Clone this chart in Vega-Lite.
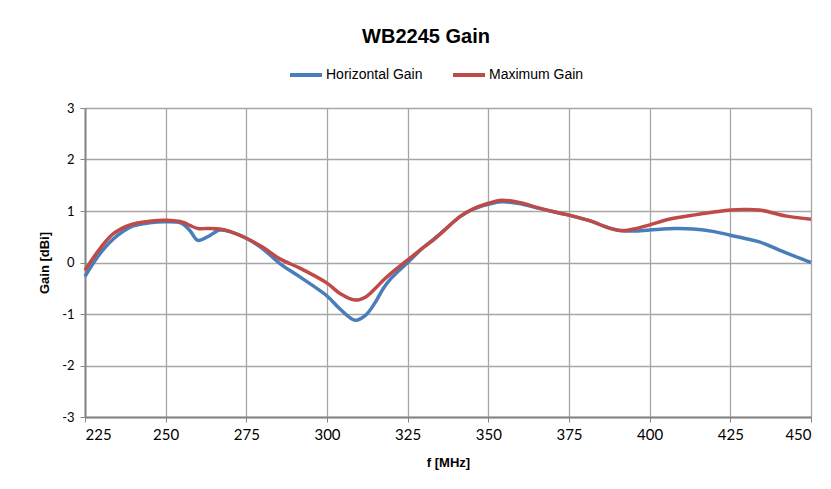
{
  "$schema": "https://vega.github.io/schema/vega-lite/v6.json",
  "width": 726,
  "height": 309,
  "autosize": "none",
  "padding": {"left": 85, "top": 108, "right": 20, "bottom": 72},
  "background": "white",
  "title": {
    "text": "WB2245 Gain",
    "font": "Liberation Sans",
    "fontSize": 20,
    "fontWeight": "bold",
    "color": "#000000",
    "anchor": "middle",
    "frame": "group",
    "dx": -22,
    "baseline": "alphabetic",
    "offset": -6
  },
  "data": {
    "values": [
      {"f": 225, "gain": -0.27, "series": "Horizontal Gain"},
      {"f": 230, "gain": 0.2, "series": "Horizontal Gain"},
      {"f": 235, "gain": 0.52, "series": "Horizontal Gain"},
      {"f": 240, "gain": 0.71, "series": "Horizontal Gain"},
      {"f": 245, "gain": 0.77, "series": "Horizontal Gain"},
      {"f": 250, "gain": 0.79, "series": "Horizontal Gain"},
      {"f": 255, "gain": 0.76, "series": "Horizontal Gain"},
      {"f": 257.5, "gain": 0.62, "series": "Horizontal Gain"},
      {"f": 260, "gain": 0.43, "series": "Horizontal Gain"},
      {"f": 263, "gain": 0.5, "series": "Horizontal Gain"},
      {"f": 266.8, "gain": 0.63, "series": "Horizontal Gain"},
      {"f": 270, "gain": 0.6, "series": "Horizontal Gain"},
      {"f": 275, "gain": 0.47, "series": "Horizontal Gain"},
      {"f": 280, "gain": 0.27, "series": "Horizontal Gain"},
      {"f": 285.4, "gain": -0.02, "series": "Horizontal Gain"},
      {"f": 291.6, "gain": -0.28, "series": "Horizontal Gain"},
      {"f": 300, "gain": -0.65, "series": "Horizontal Gain"},
      {"f": 304, "gain": -0.9, "series": "Horizontal Gain"},
      {"f": 308.7, "gain": -1.12, "series": "Horizontal Gain"},
      {"f": 312, "gain": -1.02, "series": "Horizontal Gain"},
      {"f": 315, "gain": -0.77, "series": "Horizontal Gain"},
      {"f": 317.5, "gain": -0.5, "series": "Horizontal Gain"},
      {"f": 320, "gain": -0.3, "series": "Horizontal Gain"},
      {"f": 325, "gain": 0.0, "series": "Horizontal Gain"},
      {"f": 330, "gain": 0.3, "series": "Horizontal Gain"},
      {"f": 335, "gain": 0.55, "series": "Horizontal Gain"},
      {"f": 341.2, "gain": 0.89, "series": "Horizontal Gain"},
      {"f": 345, "gain": 1.03, "series": "Horizontal Gain"},
      {"f": 350, "gain": 1.13, "series": "Horizontal Gain"},
      {"f": 354, "gain": 1.18, "series": "Horizontal Gain"},
      {"f": 360, "gain": 1.14, "series": "Horizontal Gain"},
      {"f": 365, "gain": 1.06, "series": "Horizontal Gain"},
      {"f": 372, "gain": 0.96, "series": "Horizontal Gain"},
      {"f": 375, "gain": 0.92, "series": "Horizontal Gain"},
      {"f": 382.5, "gain": 0.79, "series": "Horizontal Gain"},
      {"f": 386, "gain": 0.7, "series": "Horizontal Gain"},
      {"f": 390.8, "gain": 0.62, "series": "Horizontal Gain"},
      {"f": 395, "gain": 0.61, "series": "Horizontal Gain"},
      {"f": 400, "gain": 0.63, "series": "Horizontal Gain"},
      {"f": 408, "gain": 0.66, "series": "Horizontal Gain"},
      {"f": 413.5, "gain": 0.65, "series": "Horizontal Gain"},
      {"f": 420, "gain": 0.6, "series": "Horizontal Gain"},
      {"f": 425, "gain": 0.53, "series": "Horizontal Gain"},
      {"f": 434, "gain": 0.4, "series": "Horizontal Gain"},
      {"f": 442.5, "gain": 0.18, "series": "Horizontal Gain"},
      {"f": 450, "gain": 0.0, "series": "Horizontal Gain"},
      {"f": 225, "gain": -0.15, "series": "Maximum Gain"},
      {"f": 230, "gain": 0.3, "series": "Maximum Gain"},
      {"f": 233.8, "gain": 0.56, "series": "Maximum Gain"},
      {"f": 239, "gain": 0.73, "series": "Maximum Gain"},
      {"f": 245, "gain": 0.8, "series": "Maximum Gain"},
      {"f": 250, "gain": 0.82, "series": "Maximum Gain"},
      {"f": 255.5, "gain": 0.78, "series": "Maximum Gain"},
      {"f": 257.5, "gain": 0.72, "series": "Maximum Gain"},
      {"f": 260, "gain": 0.66, "series": "Maximum Gain"},
      {"f": 263, "gain": 0.66, "series": "Maximum Gain"},
      {"f": 266.8, "gain": 0.65, "series": "Maximum Gain"},
      {"f": 270, "gain": 0.6, "series": "Maximum Gain"},
      {"f": 275, "gain": 0.47, "series": "Maximum Gain"},
      {"f": 280, "gain": 0.3, "series": "Maximum Gain"},
      {"f": 285.4, "gain": 0.07, "series": "Maximum Gain"},
      {"f": 291.6, "gain": -0.11, "series": "Maximum Gain"},
      {"f": 300, "gain": -0.4, "series": "Maximum Gain"},
      {"f": 304, "gain": -0.6, "series": "Maximum Gain"},
      {"f": 308.7, "gain": -0.73, "series": "Maximum Gain"},
      {"f": 312, "gain": -0.67, "series": "Maximum Gain"},
      {"f": 315, "gain": -0.5, "series": "Maximum Gain"},
      {"f": 317.5, "gain": -0.34, "series": "Maximum Gain"},
      {"f": 320, "gain": -0.2, "series": "Maximum Gain"},
      {"f": 325, "gain": 0.05, "series": "Maximum Gain"},
      {"f": 330, "gain": 0.3, "series": "Maximum Gain"},
      {"f": 333, "gain": 0.44, "series": "Maximum Gain"},
      {"f": 341.2, "gain": 0.89, "series": "Maximum Gain"},
      {"f": 345, "gain": 1.03, "series": "Maximum Gain"},
      {"f": 350, "gain": 1.15, "series": "Maximum Gain"},
      {"f": 354, "gain": 1.21, "series": "Maximum Gain"},
      {"f": 360, "gain": 1.16, "series": "Maximum Gain"},
      {"f": 365, "gain": 1.07, "series": "Maximum Gain"},
      {"f": 372, "gain": 0.96, "series": "Maximum Gain"},
      {"f": 375, "gain": 0.92, "series": "Maximum Gain"},
      {"f": 382.5, "gain": 0.79, "series": "Maximum Gain"},
      {"f": 386, "gain": 0.7, "series": "Maximum Gain"},
      {"f": 390.8, "gain": 0.62, "series": "Maximum Gain"},
      {"f": 395, "gain": 0.65, "series": "Maximum Gain"},
      {"f": 400, "gain": 0.73, "series": "Maximum Gain"},
      {"f": 406, "gain": 0.84, "series": "Maximum Gain"},
      {"f": 413.5, "gain": 0.92, "series": "Maximum Gain"},
      {"f": 420, "gain": 0.98, "series": "Maximum Gain"},
      {"f": 425, "gain": 1.02, "series": "Maximum Gain"},
      {"f": 429, "gain": 1.03, "series": "Maximum Gain"},
      {"f": 434, "gain": 1.02, "series": "Maximum Gain"},
      {"f": 442.5, "gain": 0.9, "series": "Maximum Gain"},
      {"f": 450, "gain": 0.84, "series": "Maximum Gain"}
    ]
  },
  "mark": {"type": "line", "interpolate": "catmull-rom", "strokeWidth": 3.5},
  "encoding": {
    "x": {
      "field": "f",
      "type": "quantitative",
      "scale": {"domain": [225, 450], "nice": false, "zero": false},
      "axis": {
        "title": "f [MHz]",
        "values": [225, 250, 275, 300, 325, 350, 375, 400, 425, 450],
        "labelFont": "Lato",
        "labelFontSize": 15,
        "labelColor": "#000000",
        "labelPadding": 5,
        "titleFont": "Liberation Sans",
        "titleFontSize": 13,
        "titleFontWeight": "bold",
        "titleColor": "#000000",
        "titlePadding": 14
      }
    },
    "y": {
      "field": "gain",
      "type": "quantitative",
      "scale": {"domain": [-3, 3], "nice": false, "zero": false},
      "axis": {
        "title": "Gain [dBi]",
        "values": [-3, -2, -1, 0, 1, 2, 3],
        "labelExpr": "'' + datum.value",
        "labelFont": "Lato",
        "labelFontSize": 13,
        "labelColor": "#000000",
        "labelPadding": 6,
        "titleFont": "Liberation Sans",
        "titleFontSize": 13,
        "titleFontWeight": "bold",
        "titleColor": "#000000",
        "titlePadding": 10
      }
    },
    "color": {
      "field": "series",
      "type": "nominal",
      "scale": {"domain": ["Horizontal Gain", "Maximum Gain"], "range": ["#4a7ebb", "#be4b48"]},
      "legend": {
        "title": null,
        "orient": "none",
        "legendX": 203,
        "legendY": -51,
        "direction": "horizontal",
        "symbolType": "stroke",
        "symbolSize": 1024,
        "symbolStrokeWidth": 4,
        "labelFont": "Liberation Sans",
        "labelFontSize": 14,
        "labelColor": "#000000",
        "labelOffset": 2,
        "columnPadding": 22
      }
    }
  },
  "config": {
    "view": {"stroke": null},
    "axis": {
      "gridColor": "#a6a6a6",
      "gridWidth": 1.3,
      "gridOpacity": 1,
      "domainColor": "#868686",
      "domainWidth": 2,
      "tickColor": "#868686",
      "tickSize": 5,
      "tickWidth": 1
    }
  }
}
